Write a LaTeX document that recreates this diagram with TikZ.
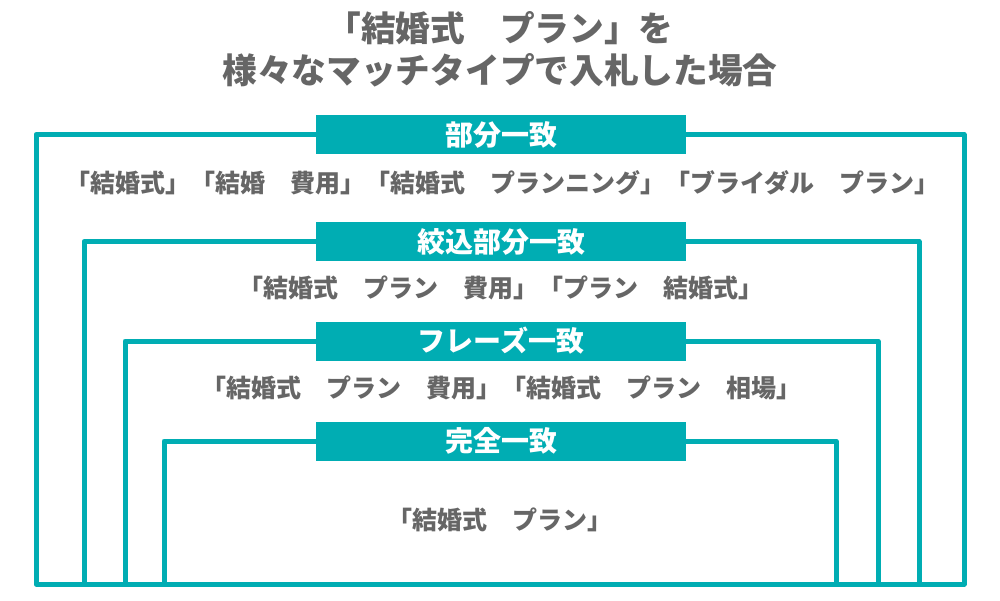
\documentclass[tikz,border=0pt]{standalone}
\usepackage{fontspec}
\setmainfont{Noto Sans CJK JP}
\usepackage{xcolor}
\definecolor{myteal}{HTML}{00ADB3}
\definecolor{mygray}{HTML}{666666}
\tikzset{
	frame/.style={line width=5pt, color=myteal, line join=round},
	bar/.style={fill=myteal, minimum width=370pt, minimum height=39pt, inner sep=0pt, text=white, font=\bfseries\fontsize{28}{28}\selectfont},
	words/.style={text=mygray, inner sep=0pt, font=\bfseries\fontsize{25}{25}\selectfont},
	heading/.style={text=mygray, inner sep=0pt, align=center, font=\bfseries\fontsize{34.7}{42}\selectfont},
}
\begin{document}
\begin{tikzpicture}[x=1pt,y=-1pt]
			\useasboundingbox (0,0) rectangle (1000,600);
			\node [heading] (title) at (500,49) {「結婚式　プラン」を\\様々なマッチタイプで入札した場合};
			% nested frames
			\draw [frame] (36,584) -- (36,134.5) -- (964,134.5) -- (964,584) -- cycle;
			\draw [frame] (84,584) -- (84,241.5) -- (919,241.5) -- (919,584);
			\draw [frame] (125,584) -- (125,341) -- (878,341) -- (878,584);
			\draw [frame] (164,584) -- (164,441) -- (836,441) -- (836,584);
			% match type bars
			\node [bar] (broad) at (501,134.5) {部分一致};
			\node [bar] (modified) at (501,241.5) {絞込部分一致};
			\node [bar] (phrase) at (501,341) {フレーズ一致};
			\node [bar] (exact) at (501,441) {完全一致};
			% matched queries
			\node [words] (broadq) at (502,183) {「結婚式」「結婚　費用」「結婚式　プランニング」「ブライダル　プラン」};
			\node [words] (modifiedq) at (501,288) {「結婚式　プラン　費用」「プラン　結婚式」};
			\node [words] (phraseq) at (501,388) {「結婚式　プラン　費用」「結婚式　プラン　相場」};
			\node [words] (exactq) at (500,520) {「結婚式　プラン」};
		\end{tikzpicture}
\end{document}
